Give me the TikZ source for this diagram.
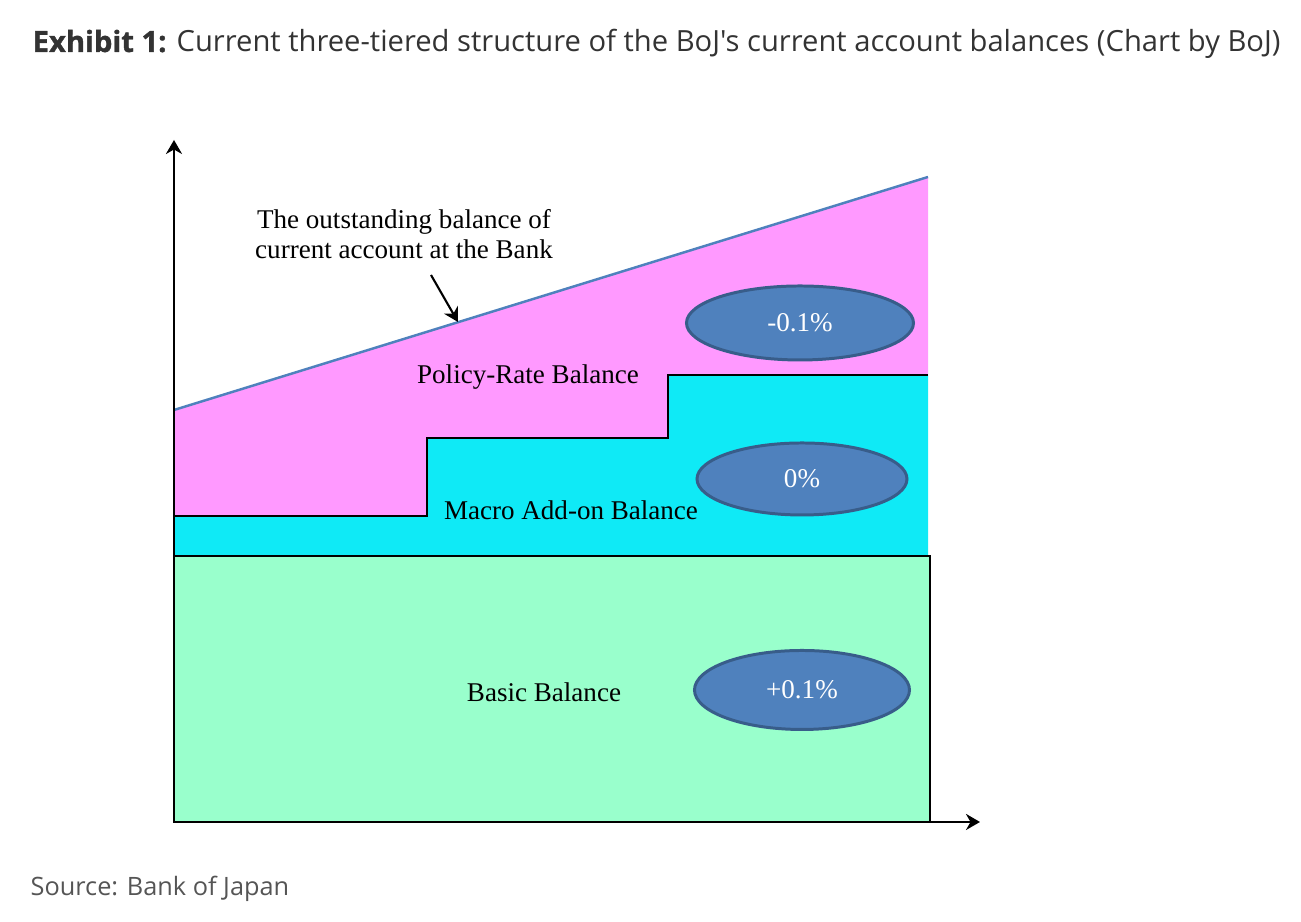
\documentclass[tikz,border=0pt]{standalone}
\usepackage{fontspec}
\setmainfont{Liberation Serif}
\newfontfamily\opensans{Open Sans}
\newfontfamily\opensansheavy{Open Sans}[FakeBold=1.2]
\usetikzlibrary{positioning,arrows.meta,shapes.geometric}
\definecolor{bojpink}{RGB}{255,153,255}
\definecolor{bojcyan}{RGB}{15,234,246}
\definecolor{bojgreen}{RGB}{153,255,204}
\definecolor{bojblue}{RGB}{79,129,189}
\definecolor{bojedge}{RGB}{56,93,138}
\definecolor{bojtitle}{RGB}{51,51,51}
\definecolor{bojsource}{RGB}{85,85,85}

\tikzset{
  tierlabel/.style={inner sep=0pt, font=\fontsize{7.7}{8.54}\selectfont},
  ratelabel/.style={ellipse, draw=bojedge, line width=0.85pt, fill=bojblue,
    text=white, inner sep=0pt, font=\fontsize{7.7}{8.54}\selectfont},
  axisline/.style={line width=0.5pt, -{Stealth[length=4pt,width=4.6pt]}},
}

\begin{document}
\begin{tikzpicture}
\useasboundingbox (0,0) rectangle (13.01,9.22);

% Title and source
\node[anchor=base west, inner sep=0pt, text=bojtitle,
  font=\opensans\fontsize{8.3}{10}\selectfont] (title) at (0.32,8.70)
  {{\opensansheavy\bfseries Exhibit 1:} Current three-tiered structure of the BoJ's current account balances (Chart by BoJ)};
\node[anchor=base west, inner sep=0pt, text=bojsource,
  font=\opensans\fontsize{7.2}{9}\selectfont] (source) at (0.30,0.26)
  {Source: Bank of Japan};

% Policy-rate tier
\fill[bojpink] (1.74,5.12) -- (9.28,7.45) -- (9.28,5.47) -- (6.68,5.47) -- (6.68,4.84)
  -- (4.27,4.84) -- (4.27,4.06) -- (1.74,4.06) -- cycle;
% Macro add-on tier
\fill[bojcyan] (1.74,4.06) -- (4.27,4.06) -- (4.27,4.84) -- (6.68,4.84) -- (6.68,5.47)
  -- (9.28,5.47) -- (9.28,3.66) -- (1.74,3.66) -- cycle;
\draw[line width=0.6pt] (1.74,4.06) -- (4.27,4.06) -- (4.27,4.84) -- (6.68,4.84)
  -- (6.68,5.47) -- (9.28,5.47);
% Basic tier
\draw[line width=0.6pt, fill=bojgreen] (1.74,1.00) rectangle (9.30,3.66);
% Outstanding balance
\draw[bojblue, line width=0.7pt] (1.74,5.12) -- (9.28,7.45);

% Axes
\draw[axisline] (1.74,1.00) -- (1.74,7.82);
\draw[axisline] (1.74,1.00) -- (9.80,1.00);

% Labels
\node[tierlabel, anchor=north, align=center] (note) at (4.04,7.13)
  {The outstanding balance of\\current account at the Bank};
\coordinate (notefrom) at (4.31,6.47);
\coordinate (noteto) at (4.58,6.00);
\draw[line width=0.6pt, -{Stealth[length=4pt,width=4.5pt]}] (notefrom) -- (noteto);

\node[tierlabel, anchor=base] (policy) at (5.28,5.38) {Policy-Rate Balance};
\node[tierlabel, anchor=base] (macro) at (5.71,4.02) {Macro Add-on Balance};
\node[tierlabel, anchor=base] (basic) at (5.44,2.20) {Basic Balance};

% Rates
\node[ratelabel, minimum width=2.27cm, minimum height=0.74cm] (minus) at (8.00,5.99) {-0.1\%};
\node[ratelabel, minimum width=2.10cm, minimum height=0.72cm] (zero) at (8.02,4.43) {0\%};
\node[ratelabel, minimum width=2.15cm, minimum height=0.79cm] (plus) at (8.02,2.32) {+0.1\%};
\end{tikzpicture}
\end{document}
